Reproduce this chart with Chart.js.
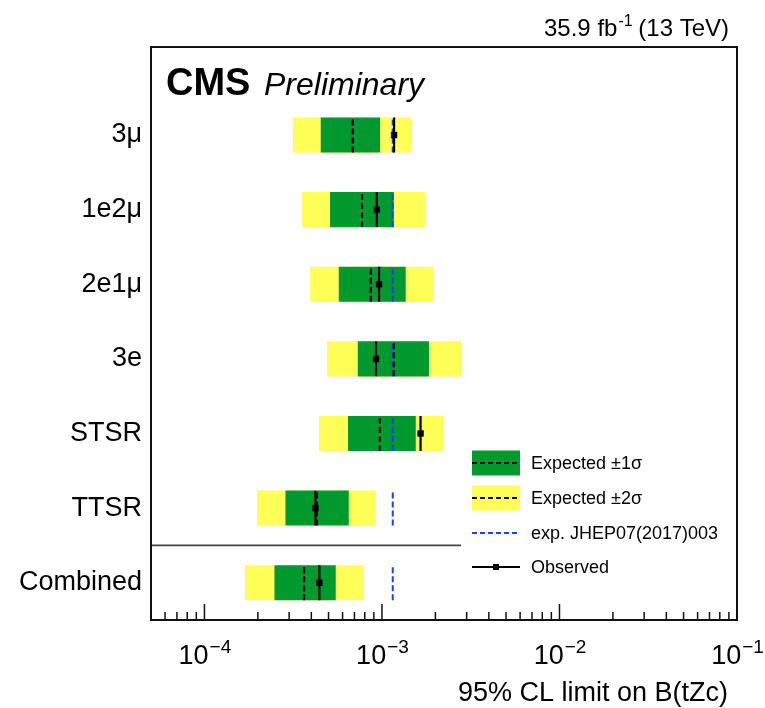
<!DOCTYPE html>
<html><head><meta charset="utf-8">
<script src="https://cdn.jsdelivr.net/npm/chart.js@4.4.1/dist/chart.umd.min.js"></script>
<style>html,body{margin:0;padding:0;background:#fff;}</style>
</head><body>
<canvas id="c" width="765" height="708"></canvas>
<script>
// ---- data ----
const categories = ["3μ","1e2μ","2e1μ","3e","STSR","TTSR","Combined"];
const exp2Lo   = [3.15e-4, 3.55e-4, 3.94e-4, 4.91e-4, 4.42e-4, 1.98e-4, 1.69e-4];
const exp1Lo   = [4.52e-4, 5.10e-4, 5.71e-4, 7.31e-4, 6.44e-4, 2.86e-4, 2.48e-4];
const exp1Hi   = [9.76e-4, 1.166e-3, 1.36e-3, 1.84e-3, 1.55e-3, 6.50e-4, 5.49e-4];
const exp2Hi   = [1.46e-3, 1.756e-3, 1.94e-3, 2.79e-3, 2.22e-3, 9.23e-4, 7.90e-4];
const expected = [6.85e-4, 7.72e-4, 8.65e-4, 1.166e-3, 9.72e-4, 4.29e-4, 3.64e-4];
const observed = [1.17e-3, 9.35e-4, 9.63e-4, 9.26e-4, 1.65e-3, 4.22e-4, 4.44e-4];
const jhepExp  = [1.15e-3, 1.15e-3, 1.15e-3, 1.15e-3, 1.15e-3, 1.15e-3, 1.15e-3];
const xMajorTicks = [1e-4, 1e-3, 1e-2, 1e-1];
const xTickExponents = ["\u22124", "\u22123", "\u22122", "\u22121"];
const xRange = [5e-5, 0.1];
const separatorAt = 0.5;

const FONT = '"Liberation Sans", Arial, Helvetica, sans-serif';
const N = categories.length;
const pos = i => N - 1 - i;
const H = 0.234;

function segments(vals) {
  const d = [];
  vals.forEach((v, i) => {
    const y = pos(i);
    d.push({x: v, y: y - H}, {x: v, y: y + H}, {x: null, y: null});
  });
  return d;
}

const GREEN = '#00992e', YELLOW = '#ffff57', BLUE = '#1f3cff';

const decor = {
  id: 'decor',
  afterDatasetsDraw(chart) {
    const ctx = chart.ctx;
    ctx.save();
    ctx.fillStyle = '#fff';
    ctx.fillRect(461, 440, 275, 152);
    const items = [
      {y: 463, type: 'band', color: GREEN, label: 'Expected \u00b11\u03c3'},
      {y: 498, type: 'band', color: YELLOW, label: 'Expected \u00b12\u03c3'},
      {y: 533, type: 'dash', color: BLUE, label: 'exp. JHEP07(2017)003'},
      {y: 567, type: 'obs', color: '#000', label: 'Observed'}
    ];
    items.forEach(it => {
      if (it.type === 'band') {
        ctx.fillStyle = it.color;
        ctx.fillRect(472, it.y - 12.5, 48, 25);
        ctx.strokeStyle = '#000'; ctx.lineWidth = 2; ctx.setLineDash([5, 3]);
        ctx.beginPath(); ctx.moveTo(472, it.y); ctx.lineTo(520, it.y); ctx.stroke();
      } else if (it.type === 'dash') {
        ctx.strokeStyle = it.color; ctx.lineWidth = 2; ctx.setLineDash([5, 3]);
        ctx.beginPath(); ctx.moveTo(472, it.y); ctx.lineTo(520, it.y); ctx.stroke();
      } else {
        ctx.setLineDash([]);
        ctx.strokeStyle = '#000'; ctx.lineWidth = 2;
        ctx.beginPath(); ctx.moveTo(472, it.y); ctx.lineTo(520, it.y); ctx.stroke();
        ctx.fillStyle = '#000'; ctx.fillRect(493, it.y - 3, 6, 6);
      }
      ctx.setLineDash([]);
      ctx.fillStyle = '#000';
      ctx.font = '18px ' + FONT;
      ctx.textAlign = 'left'; ctx.textBaseline = 'middle';
      ctx.fillText(it.label, 531, it.y + 1);
    });
    ctx.restore();
  },
  afterDraw(chart) {
    const ctx = chart.ctx, a = chart.chartArea, xs = chart.scales.x;
    ctx.save();
    ctx.strokeStyle = '#111'; ctx.lineWidth = 2;
    ctx.strokeRect(a.left, a.top, a.right - a.left, a.bottom - a.top);
    ctx.lineWidth = 1.5;
    xs.ticks.forEach(t => {
      const px = xs.getPixelForValue(t.value);
      if (px < a.left + 1 || px > a.right - 1) return;
      const len = t.major ? 16 : 8;
      ctx.beginPath(); ctx.moveTo(px, a.bottom); ctx.lineTo(px, a.bottom - len); ctx.stroke();
    });
    ctx.fillStyle = '#000'; ctx.textBaseline = 'alphabetic'; ctx.textAlign = 'left';
    xMajorTicks.forEach((v, k) => {
      const px = xs.getPixelForValue(v);
      ctx.font = '27px ' + FONT;
      const wb = ctx.measureText('10').width;
      ctx.font = '19px ' + FONT;
      const ws = ctx.measureText(xTickExponents[k]).width;
      const x0 = px - (wb + ws) / 2;
      ctx.font = '27px ' + FONT;
      ctx.fillText('10', x0, 664);
      ctx.font = '19px ' + FONT;
      ctx.fillText(xTickExponents[k], x0 + wb + 1, 653);
    });
    ctx.font = '27px ' + FONT; ctx.textAlign = 'right';
    ctx.fillText('95% CL limit on B(tZc)', 728, 701);
    const p1 = '35.9 fb', p2 = '-1', p3 = ' (13 TeV)';
    ctx.textAlign = 'left';
    ctx.font = '24px ' + FONT; const w1 = ctx.measureText(p1).width, w3 = ctx.measureText(p3).width;
    ctx.font = '16px ' + FONT; const w2 = ctx.measureText(p2).width;
    let x = 729 - (w1 + w2 + w3);
    ctx.font = '24px ' + FONT; ctx.fillText(p1, x, 36);
    ctx.font = '16px ' + FONT; ctx.fillText(p2, x + w1 + 1, 26);
    ctx.font = '24px ' + FONT; ctx.fillText(p3, x + w1 + w2, 36);
    ctx.font = 'bold 38px ' + FONT; ctx.fillText('CMS', 166, 95);
    ctx.font = 'italic 32px ' + FONT; ctx.fillText('Preliminary', 264, 95);
    ctx.restore();
  }
};

const minorTicks = [];
for (let e = -5; e <= -1; e++) for (let m = 1; m <= 9; m++) {
  const v = m * Math.pow(10, e);
  if (v >= xRange[0] * 0.999 && v <= xRange[1] * 1.001) minorTicks.push(v);
}

new Chart(document.getElementById('c'), {
  data: {
    datasets: [
      {type: 'line', label: 'obsMarker', data: observed.map((v, i) => ({x: v, y: pos(i)})),
       showLine: false, pointStyle: 'rect', pointRadius: 4.5, pointBackgroundColor: '#000', pointBorderWidth: 0, order: 0},
      {type: 'line', label: 'Observed', data: segments(observed), borderColor: '#000', borderWidth: 2.2,
       pointRadius: 0, spanGaps: false, order: 1},
      {type: 'line', label: 'Expected', data: segments(expected), borderColor: '#000', borderWidth: 2.2,
       borderDash: [6, 3], pointRadius: 0, spanGaps: false, order: 2},
      {type: 'line', label: 'JHEP', data: segments(jhepExp), borderColor: BLUE, borderWidth: 2,
       borderDash: [6, 3], pointRadius: 0, spanGaps: false, order: 3},
      {type: 'line', label: 'sep', data: [{x: xRange[0], y: separatorAt}, {x: xRange[1], y: separatorAt}],
       borderColor: '#444', borderWidth: 1.8, pointRadius: 0, order: 6},
      {type: 'bar', label: '1sigma', indexAxis: 'y', grouped: false,
       data: exp1Lo.map((v, i) => ({x: [v, exp1Hi[i]], y: pos(i)})),
       backgroundColor: GREEN, borderWidth: 0, barPercentage: 0.47, categoryPercentage: 1, order: 4},
      {type: 'bar', label: '2sigma', indexAxis: 'y', grouped: false,
       data: exp2Lo.map((v, i) => ({x: [v, exp2Hi[i]], y: pos(i)})),
       backgroundColor: YELLOW, borderWidth: 0, barPercentage: 0.47, categoryPercentage: 1, order: 5}
    ]
  },
  options: {
    responsive: false, animation: false, devicePixelRatio: 1,
    layout: {padding: {top: 47, right: 28, left: 0, bottom: 0}},
    plugins: {legend: {display: false}, tooltip: {enabled: false}},
    scales: {
      x: {
        type: 'logarithmic', min: xRange[0], max: xRange[1], offset: false,
        grid: {display: false, drawTicks: false}, border: {display: false},
        ticks: {display: false},
        afterBuildTicks: s => { s.ticks = minorTicks.map(v => ({value: v, major: xMajorTicks.some(m => Math.abs(m - v) / m < 1e-6)})); },
        afterFit: s => { s.height = 88; }
      },
      y: {
        type: 'linear', min: -0.5, max: 7.18, offset: false,
        grid: {display: false, drawTicks: false, offset: false}, border: {display: false},
        afterBuildTicks: s => { s.ticks = categories.map((c, i) => ({value: pos(i)})); },
        ticks: {font: {size: 27, family: FONT}, color: '#000', padding: 9,
                callback: v => categories[N - 1 - v]},
        afterFit: s => { s.width = 151; }
      }
    }
  },
  plugins: [decor]
});
</script>
</body></html>
